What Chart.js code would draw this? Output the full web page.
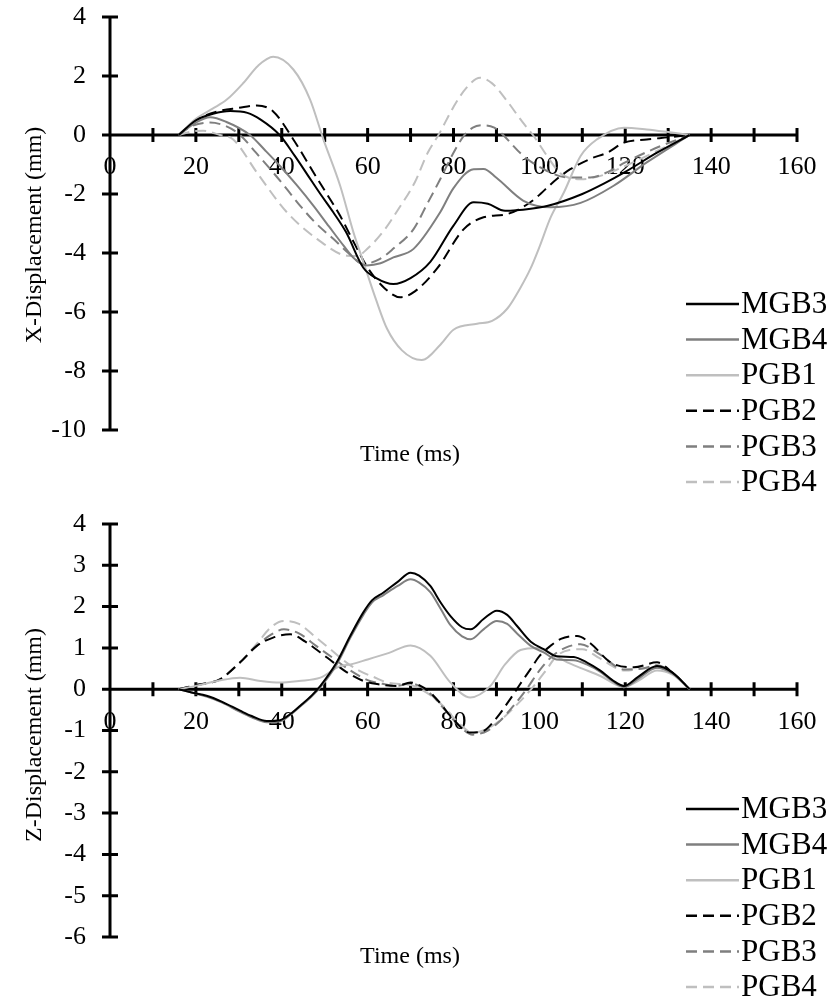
<!DOCTYPE html>
<html>
<head>
<meta charset="utf-8">
<script src="https://cdn.jsdelivr.net/npm/chart.js@4"></script>
<style>
  body { margin: 0; background: #fff; }
  canvas { display: block; }
</style>
</head>
<body>
<canvas id="xChart" width="834" height="507"></canvas>
<canvas id="zChart" width="834" height="494"></canvas>
<script>
// X-displacement (mm) against time (ms)
const xTimeMGB3 = [16, 20, 24, 28, 32, 35, 39.5, 43, 46, 49, 52, 55, 59, 62, 66, 70, 74.6, 80, 84.7, 88, 92, 98, 102, 110, 115, 120, 127.4, 135];
const xDispMGB3 = [0, 0.5, 0.72, 0.81, 0.75, 0.53, 0, -0.7, -1.35, -2.0, -2.62, -3.3, -4.5, -4.85, -5.05, -4.85, -4.3, -3.07, -2.28, -2.33, -2.57, -2.5, -2.4, -2.0, -1.65, -1.25, -0.6, 0];

const xTimeMGB4 = [16, 20, 23.3, 27, 32.6, 36, 39.6, 43.5, 47.4, 51, 54.4, 57, 59.8, 63, 66, 70.7, 76.9, 80, 84.7, 87, 90, 96.3, 102.6, 109.6, 117.3, 125, 135];
const xDispMGB4 = [0, 0.42, 0.6, 0.45, 0, -0.5, -1.05, -1.7, -2.4, -3.1, -3.75, -4.2, -4.42, -4.35, -4.15, -3.86, -2.62, -1.8, -1.16, -1.15, -1.45, -2.23, -2.45, -2.3, -1.72, -0.93, 0];

const xTimePGB1 = [16, 20, 24, 27.2, 31.1, 34.5, 38, 42.7, 46.6, 49.7, 53.6, 56.7, 59, 62, 64.5, 68, 72.6, 77, 80, 85.5, 89, 92.5, 95.5, 97.9, 100, 102.6, 105.7, 109.6, 113.4, 119.7, 125, 130, 135];
const xDispPGB1 = [0, 0.55, 0.9, 1.2, 1.77, 2.35, 2.65, 2.22, 1.2, -0.15, -1.72, -3.3, -4.3, -5.6, -6.56, -7.3, -7.63, -7.1, -6.6, -6.4, -6.3, -5.89, -5.2, -4.54, -3.8, -2.8, -1.95, -0.71, -0.15, 0.25, 0.19, 0.1, 0];

const xTimePGB2 = [16, 20, 25, 30, 34.2, 38, 42.7, 47.4, 50.5, 53.6, 57, 60, 64, 67.6, 71, 76.1, 82.4, 87, 92.5, 97.9, 104, 107.2, 112, 115.8, 119.7, 125, 130, 135];
const xDispPGB2 = [0, 0.5, 0.8, 0.92, 1.0, 0.8, -0.15, -1.27, -2.0, -2.74, -3.7, -4.5, -5.2, -5.5, -5.3, -4.54, -3.19, -2.79, -2.68, -2.28, -1.5, -1.16, -0.8, -0.6, -0.26, -0.15, -0.08, 0];

const xTimePGB3 = [16, 19, 23.3, 27, 30.3, 34, 38, 41, 44.3, 48, 52, 55.5, 59, 62.9, 66, 70.7, 74, 76.9, 80, 82.4, 84.5, 87, 89.5, 91, 96.3, 101.8, 106.5, 111.9, 116, 120, 127, 135];
const xDispPGB3 = [0, 0.3, 0.42, 0.3, 0, -0.6, -1.27, -1.8, -2.4, -3.0, -3.52, -4.0, -4.37, -4.2, -3.85, -3.19, -2.3, -1.5, -0.6, -0.03, 0.25, 0.33, 0.25, 0.08, -0.71, -1.22, -1.44, -1.44, -1.25, -0.93, -0.45, 0];

const xTimePGB4 = [16, 19, 21.7, 25.6, 28.7, 34.2, 41.2, 48.2, 55.2, 57.5, 60, 64, 67, 71, 74, 76.5, 80, 83, 86.2, 89, 92.5, 96, 98.5, 101.8, 104.9, 109.6, 115, 120, 128, 135];
const xDispPGB4 = [0, 0.12, 0.14, 0, -0.15, -1.27, -2.62, -3.52, -4.09, -4.1, -3.85, -3.2, -2.55, -1.6, -0.6, 0, 0.95, 1.6, 1.94, 1.75, 1.15, 0.45, 0, -0.71, -1.3, -1.5, -1.35, -1.05, -0.5, 0];

// Z-displacement (mm) against time (ms)
const zTimeMGB3 = [16, 19, 22.5, 26, 30.3, 33, 36.5, 39.6, 42, 44.3, 47, 49, 52.8, 56, 59, 61, 63.7, 67, 70, 72, 74.6, 77, 79.3, 82, 84, 87, 90.1, 92.5, 94.8, 98, 101, 104, 108, 111, 114.2, 117, 119.7, 123, 127.4, 131, 135];
const zDispMGB3 = [0, -0.08, -0.16, -0.3, -0.52, -0.65, -0.77, -0.75, -0.6, -0.4, -0.15, 0.08, 0.65, 1.3, 1.86, 2.15, 2.34, 2.6, 2.82, 2.75, 2.5, 2.1, 1.77, 1.5, 1.45, 1.7, 1.9, 1.8, 1.53, 1.15, 0.97, 0.8, 0.78, 0.65, 0.45, 0.22, 0.08, 0.3, 0.56, 0.4, 0];

const zTimeMGB4 = [16, 19, 22.5, 26, 30.3, 33, 36.5, 39.6, 42, 44.3, 47, 49, 52.8, 56, 59, 61, 63.7, 67, 70, 72, 74.6, 77, 79.3, 82, 84, 87, 90.1, 92.5, 94.8, 98, 101, 104, 108, 111, 114.2, 117, 119.7, 123, 127.4, 131, 135];
const zDispMGB4 = [0, -0.08, -0.18, -0.32, -0.55, -0.68, -0.8, -0.78, -0.62, -0.42, -0.17, 0.05, 0.6, 1.25, 1.8, 2.1, 2.28, 2.5, 2.66, 2.58, 2.35, 1.95, 1.55, 1.28, 1.21, 1.45, 1.65, 1.58, 1.35, 1.05, 0.89, 0.72, 0.7, 0.6, 0.42, 0.2, 0.05, 0.25, 0.52, 0.38, 0];

const zTimePGB1 = [16, 20, 25, 30.3, 35, 39.6, 44, 49, 53.6, 56, 60, 65, 70, 74.6, 79.3, 83.9, 88.6, 92, 95.6, 99.5, 103, 106.5, 110, 114.2, 119.7, 123, 127.4, 131, 135];
const zDispPGB1 = [0, 0.08, 0.2, 0.28, 0.2, 0.16, 0.2, 0.28, 0.56, 0.6, 0.72, 0.88, 1.06, 0.81, 0.16, -0.2, 0.08, 0.6, 0.95, 1.0, 0.85, 0.65, 0.5, 0.32, 0.05, 0.2, 0.45, 0.35, 0];

const zTimePGB2 = [16, 20, 25.6, 30.3, 34.2, 38, 42, 45.5, 49, 52, 55, 59, 62.5, 66.8, 70, 72, 74.6, 77, 79.3, 83.9, 87, 90, 93.2, 95.5, 97.9, 100, 102.6, 105, 108.8, 112, 116.6, 122, 127.4, 131, 135];
const zDispPGB2 = [0, 0.1, 0.24, 0.65, 1.05, 1.25, 1.33, 1.15, 0.89, 0.65, 0.42, 0.2, 0.12, 0.08, 0.16, 0.1, -0.08, -0.35, -0.65, -1.05, -1.01, -0.7, -0.24, 0.12, 0.48, 0.8, 1.05, 1.22, 1.29, 1.1, 0.65, 0.53, 0.65, 0.4, 0];

const zTimePGB3 = [16, 20, 25.6, 30.3, 34.2, 37.5, 40.5, 44, 48, 52, 56, 60, 64, 67, 70, 72.5, 75, 78, 81, 84.5, 88, 91, 94, 97, 100, 103, 106, 109.6, 114, 119.7, 124, 127.4, 131, 135];
const zDispPGB3 = [0, 0.1, 0.24, 0.65, 1.05, 1.32, 1.45, 1.35, 1.05, 0.75, 0.45, 0.22, 0.12, 0.08, 0.14, 0.05, -0.15, -0.5, -0.85, -1.1, -1.0, -0.75, -0.4, 0, 0.45, 0.8, 1.0, 1.09, 0.85, 0.48, 0.5, 0.58, 0.4, 0];

const zTimePGB4 = [16, 20, 25.6, 30.3, 34.2, 37.5, 40.4, 44, 48, 51.3, 55, 58, 61.3, 65, 70, 74, 78, 81, 84.5, 88, 91.5, 95, 98.5, 101.5, 104, 107, 110, 114, 120, 124, 127.4, 131, 135];
const zDispPGB4 = [0, 0.1, 0.24, 0.65, 1.1, 1.5, 1.65, 1.58, 1.25, 0.97, 0.65, 0.45, 0.3, 0.15, 0.1, -0.1, -0.45, -0.8, -1.05, -0.95, -0.7, -0.35, 0.05, 0.45, 0.8, 0.95, 0.97, 0.75, 0.45, 0.5, 0.52, 0.38, 0];

const seriesNames = ['MGB3', 'MGB4', 'PGB1', 'PGB2', 'PGB3', 'PGB4'];
const seriesColors = ['#000000', '#7f7f7f', '#bfbfbf', '#000000', '#7f7f7f', '#bfbfbf'];
const seriesDashes = [[], [], [], [11, 6], [11, 6], [11, 6]];

const serif = '"Liberation Serif", "Times New Roman", serif';
const tickFont = { family: serif, size: 26 };

// axes drawn through the origin, with ticks crossing the line
const crossAxes = {
    id: 'crossAxes',
    beforeDatasetsDraw(chart) {
        const { ctx, scales: { x, y } } = chart;
        const x0 = x.getPixelForValue(0);
        const y0 = y.getPixelForValue(0);
        ctx.save();
        ctx.strokeStyle = '#000';
        ctx.lineWidth = 3;
        ctx.beginPath();
        ctx.moveTo(x0, y.getPixelForValue(y.max));
        ctx.lineTo(x0, y.getPixelForValue(y.min));
        ctx.moveTo(x0, y0);
        ctx.lineTo(x.getPixelForValue(x.max), y0);
        x.ticks.forEach(t => {
            const px = x.getPixelForValue(t.value);
            ctx.moveTo(px, y0 - 7);
            ctx.lineTo(px, y0 + 7);
        });
        y.ticks.forEach(t => {
            const py = y.getPixelForValue(t.value);
            ctx.moveTo(x0 - 8, py);
            ctx.lineTo(x0 + 8, py);
        });
        ctx.stroke();
        ctx.restore();
    }
};

// axis titles and the legend in the lower right corner
const sideLabels = {
    id: 'sideLabels',
    afterDraw(chart, args, opts) {
        const { ctx } = chart;
        ctx.save();
        ctx.fillStyle = '#000';
        ctx.font = '24px ' + serif;
        ctx.textAlign = 'center';
        ctx.textBaseline = 'middle';
        ctx.fillText('Time (ms)', opts.timeX, opts.timeY);
        ctx.save();
        ctx.translate(opts.titleX, opts.titleY);
        ctx.rotate(-Math.PI / 2);
        ctx.fillText(opts.title, 0, 0);
        ctx.restore();

        ctx.font = '31px ' + serif;
        ctx.textAlign = 'left';
        chart.data.datasets.forEach((ds, i) => {
            const ly = opts.legendTop + i * opts.legendGap;
            ctx.strokeStyle = ds.borderColor;
            ctx.lineWidth = 2.5;
            ctx.setLineDash(ds.borderDash);
            ctx.beginPath();
            ctx.moveTo(opts.legendX, ly);
            ctx.lineTo(opts.legendX + 53, ly);
            ctx.stroke();
            ctx.fillText(ds.label, opts.legendX + 55, ly + 1);
        });
        ctx.restore();
    }
};

function makeDatasets(times, disps) {
    return seriesNames.map((name, i) => ({
        label: name,
        data: times[i].map((t, k) => ({ x: t, y: disps[i][k] })),
        borderColor: seriesColors[i],
        borderDash: seriesDashes[i],
        borderWidth: 2,
        pointRadius: 0,
        fill: false,
        cubicInterpolationMode: 'monotone'
    }));
}

function makeChart(id, datasets, yMin, yStep, labels, bottomPad) {
    return new Chart(document.getElementById(id), {
        type: 'line',
        data: { datasets },
        options: {
            responsive: false,
            animation: false,
            layout: { padding: { top: 17, right: 37, bottom: bottomPad, left: 0 } },
            plugins: {
                legend: { display: false },
                tooltip: { enabled: false },
                sideLabels: labels
            },
            scales: {
                x: {
                    type: 'linear',
                    min: 0,
                    max: 160,
                    position: { y: 0 },
                    grid: { display: false, drawTicks: false },
                    border: { display: false },
                    ticks: {
                        stepSize: 10,
                        autoSkip: false,
                        maxRotation: 0,
                        padding: 17,
                        color: '#000',
                        font: tickFont,
                        callback: v => (v % 20 === 0 ? v : '')
                    }
                },
                y: {
                    min: yMin,
                    max: 4,
                    position: 'left',
                    grid: { display: false, drawTicks: false },
                    border: { display: false },
                    ticks: { stepSize: yStep, padding: 24, color: '#000', font: tickFont },
                    // fixed width, and no extra room above/below for the end labels
                    afterFit: s => {
                        s.width = 110;
                        s.paddingTop = 0;
                        s.paddingBottom = 0;
                    }
                }
            }
        },
        plugins: [crossAxes, sideLabels]
    });
}

makeChart('xChart',
    makeDatasets(
        [xTimeMGB3, xTimeMGB4, xTimePGB1, xTimePGB2, xTimePGB3, xTimePGB4],
        [xDispMGB3, xDispMGB4, xDispPGB1, xDispPGB2, xDispPGB3, xDispPGB4]),
    -10, 2,
    { title: 'X-Displacement (mm)', titleX: 35, titleY: 235, timeX: 410, timeY: 455,
      legendX: 686, legendTop: 304, legendGap: 35.6 },
    77);

makeChart('zChart',
    makeDatasets(
        [zTimeMGB3, zTimeMGB4, zTimePGB1, zTimePGB2, zTimePGB3, zTimePGB4],
        [zDispMGB3, zDispMGB4, zDispPGB1, zDispPGB2, zDispPGB3, zDispPGB4]),
    -6, 1,
    { title: 'Z-Displacement (mm)', titleX: 35, titleY: 228, timeX: 410, timeY: 450,
      legendX: 686, legendTop: 302, legendGap: 35.6 },
    64);
</script>
</body>
</html>
